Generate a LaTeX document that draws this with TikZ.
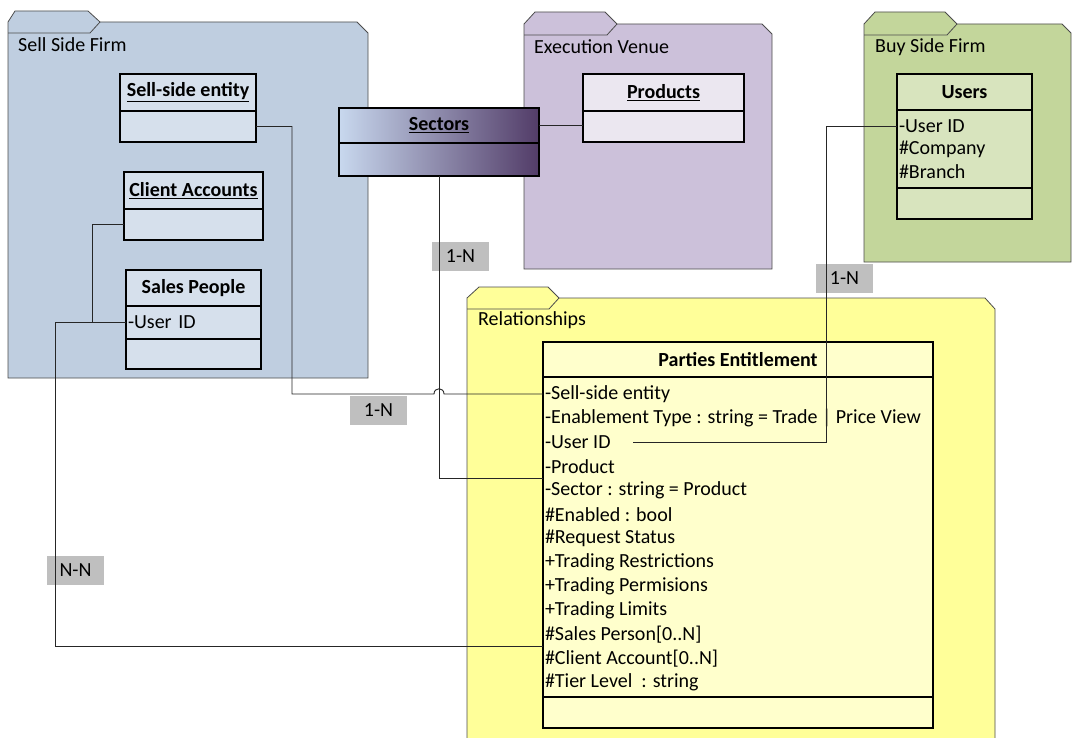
\documentclass[tikz,border=0pt]{standalone}
\usepackage{fontspec}
\setmainfont{Carlito}
\usetikzlibrary{positioning,calc}

\definecolor{sellpkg}{RGB}{191,206,224}
\definecolor{sellcls}{RGB}{214,224,236}
\definecolor{venuepkg}{RGB}{204,193,218}
\definecolor{venuecls}{RGB}{235,231,240}
\definecolor{buypkg}{RGB}{195,214,155}
\definecolor{buycls}{RGB}{216,228,190}
\definecolor{relpkg}{RGB}{255,255,153}
\definecolor{relcls}{RGB}{255,255,204}
\definecolor{tagfill}{RGB}{191,191,191}
\definecolor{secleft}{RGB}{200,216,238}
\definecolor{secright}{RGB}{82,60,104}

\newcommand{\fsz}{\fontsize{20}{24}\selectfont}

\begin{document}
\begin{tikzpicture}[x=1pt,y=-1pt,
  pkg/.style={draw=black!70, line width=0.8pt},
  pkgname/.style={anchor=west, inner sep=0pt, font=\fsz},
  head/.style={draw, line width=1.4pt, inner sep=0pt, outer sep=0pt, minimum height=37pt, font=\bfseries\fsz},
  comp/.style={draw, line width=1.4pt, inner sep=0pt, outer sep=0pt, minimum height=31pt},
  attr/.style={anchor=west, inner xsep=2pt, inner ysep=0pt, outer sep=0pt, font=\fsz},
  tag/.style={fill=tagfill, minimum width=57pt, minimum height=29pt, inner sep=0pt, font=\fsz},
  link/.style={draw=black!85, line width=0.9pt}]
  \useasboundingbox (0,0) rectangle (1073,738);

  % Pacotes
  \path[pkg, fill=sellpkg] (8,22) -- (15,11) -- (88,11) -- (100,22) -- (357,22) -- (368,33) -- (368,378) -- (8,378) -- cycle;
  \draw[pkg] (8,33) -- (90,33) -- (100,22);
  \path[pkg, fill=venuepkg] (524,24) -- (535,12) -- (605,12) -- (617,24) -- (762,24) -- (772,34) -- (772,269) -- (524,269) -- cycle;
  \draw[pkg] (524,35) -- (607,35) -- (617,24);
  \path[pkg, fill=buypkg] (864,24) -- (875,12) -- (945,12) -- (957,24) -- (1062,24) -- (1071,33) -- (1071,262) -- (864,262) -- cycle;
  \draw[pkg] (864,35) -- (947,35) -- (957,24);
  \path[pkg, fill=relpkg] (467,298) -- (479,287) -- (548,287) -- (559,298) -- (985,298) -- (995,309) -- (995,745) -- (467,745) -- cycle;
  \draw[pkg] (467,309) -- (549,309) -- (559,298);

  \node[pkgname] (sellname) at (18,45) {Sell Side Firm};
  \node[pkgname] (venuename) at (534,47) {Execution Venue};
  \node[pkgname] (buyname) at (875,47) {Buy Side Firm};
  \node[pkgname] (relname) at (478,320) {Relationships};

  % Classes do lado vendedor
  \node[head, fill=sellcls, minimum width=136pt, anchor=north west] (sellhead) at (120,74) {\underline{Sell-side entity}};
  \node[comp, fill=sellcls, minimum width=136pt, below=0pt of sellhead] (sellbody) {};
  \node[head, fill=sellcls, minimum width=139pt, anchor=north west] (clienthead) at (124,172) {\underline{Client Accounts}};
  \node[comp, fill=sellcls, minimum width=139pt, below=0pt of clienthead] (clientbody) {};
  \node[head, fill=sellcls, minimum width=135pt, minimum height=36pt, anchor=north west] (saleshead) at (126,270) {Sales People};
  \node[comp, fill=sellcls, minimum width=135pt, minimum height=33pt, text width=131pt, inner xsep=2pt, align=left, font=\fsz, below=0pt of saleshead] (salesattr) {-User ID};
  \node[comp, fill=sellcls, minimum width=135pt, minimum height=30pt, below=0pt of salesattr] (salesops) {};

  % Sectors e Products
  \node[head, left color=secleft, right color=secright, minimum width=200pt, minimum height=35pt, anchor=north west] (sechead) at (339,108) {\underline{Sectors}};
  \node[comp, left color=secleft, right color=secright, minimum width=200pt, minimum height=33pt, below=0pt of sechead] (secbody) {};
  \node[head, fill=venuecls, minimum width=161pt, anchor=north west] (prodhead) at (583,74) {\underline{Products}};
  \node[comp, fill=venuecls, minimum width=161pt, below=0pt of prodhead] (prodbody) {};

  % Users
  \node[head, fill=buycls, minimum width=135pt, minimum height=36pt, anchor=north west] (usrhead) at (897,74) {Users};
  \node[comp, fill=buycls, minimum width=135pt, minimum height=78pt, below=0pt of usrhead] (usrbody) {};
  \node[comp, fill=buycls, minimum width=135pt, below=0pt of usrbody] (usrops) {};
  \node[attr] (usr1) at (897,126) {-User ID};
  \node[attr] (usr2) at (897,149) {\#Company};
  \node[attr] (usr3) at (897,172) {\#Branch};

  % Parties Entitlement
  \node[head, fill=relcls, minimum width=390pt, minimum height=35pt, anchor=north west] (pehead) at (543,342) {Parties Entitlement};
  \node[comp, fill=relcls, minimum width=390pt, minimum height=320pt, below=0pt of pehead] (pebody) {};
  \node[comp, fill=relcls, minimum width=390pt, below=0pt of pebody] (peops) {};
  \foreach \txt [count=\i] in {{-Sell-side entity}, {-Enablement Type : string = Trade | Price View}, {-User ID}, {-Product}, {-Sector : string = Product}, {\#Enabled : bool}, {\#Request Status}, {+Trading Restrictions}, {+Trading Permisions}, {+Trading Limits}, {\#Sales Person[0..N]}, {\#Client Account[0..N]}, {\#Tier Level~ : string}}
    \node[attr] (pe\i) at (543,{394+24.05*(\i-1)}) {\txt};

  % Multiplicidades
  \node[tag] (tagsec) at (460.5,256.5) {1-N};
  \node[tag] (tagsell) at (378.5,410) {1-N};
  \node[tag] (tagusr) at (844.5,278.5) {1-N};
  \node[tag] (tagsales) at (75.5,570) {N-N};

  % Ligacoes
  \draw[link] (sechead.east) -- (sechead.east -| prodbody.west);
  \draw[link] (secbody.south) |- ($(pe4.west)!.5!(pe5.west)$);
  \draw[link] (sellbody.east) -- ++(36pt,0) |- (434,394) .. controls (434,387) and (444,387) .. (444,394) -- (pe1.west);
  \draw[link] (usr1.west) -- ++(-71pt,0) |- ([xshift=20pt]pe3.east);
  \draw[link] (clientbody.west) -- ++(-32pt,0) |- (salesattr.west);
  \draw[link] (salesattr.west) -- ++(-71pt,0) |- ($(pe11.west)!.5!(pe12.west)$);
\end{tikzpicture}
\end{document}
